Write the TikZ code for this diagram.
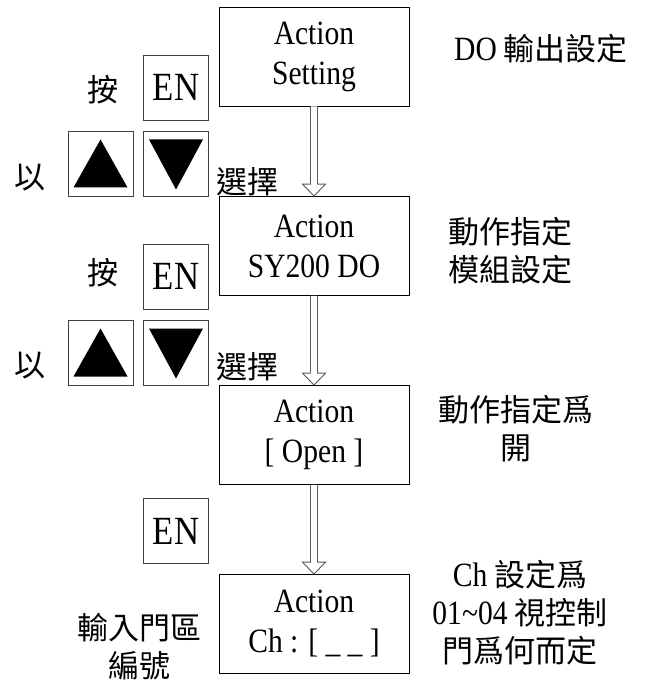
\documentclass[tikz,border=0pt]{standalone}
\usepackage{fontspec}
\setmainfont[FakeStretch=0.87]{Liberation Serif}
\newfontfamily\cjk{Noto Sans CJK TC}
\begin{document}
\begin{tikzpicture}[x=1pt,y=-1pt,
  box/.style={draw=black, line width=0.8pt, minimum width=190pt, minimum height=99pt, inner sep=0pt, align=center, font=\fontsize{34}{40}\selectfont},
  keybox/.style={draw=black!75, line width=0.8pt, minimum width=65pt, minimum height=65pt, inner sep=0pt, font=\fontsize{40}{44}\selectfont},
  note/.style={align=center, inner sep=0pt, font=\cjk\fontsize{31}{38}\selectfont},
  latin/.style={font=\rmfamily\fontsize{34}{38}\selectfont},
  arrowline/.style={draw=black!65, line width=0.9pt, fill=white, line join=miter}]
\useasboundingbox (0,0) rectangle (647,684);
\newcommand{\hollowarrow}[2]{%
  \draw[arrowline] ([xshift=-3.5pt]#1.south) -- ([xshift=-3.5pt,yshift=12pt]#2.north) -- ([xshift=-11.5pt,yshift=12pt]#2.north) -- (#2.north) -- ([xshift=11.5pt,yshift=12pt]#2.north) -- ([xshift=3.5pt,yshift=12pt]#2.north) -- ([xshift=3.5pt]#1.south);}
\newcommand{\uptri}[1]{\fill ([yshift=24pt]#1.center) -- ([xshift=-27pt,yshift=-24pt]#1.center) -- ([xshift=27pt,yshift=-24pt]#1.center) -- cycle;}
\newcommand{\downtri}[1]{\fill ([yshift=-26pt]#1.center) -- ([xshift=-27pt,yshift=24pt]#1.center) -- ([xshift=27pt,yshift=24pt]#1.center) -- cycle;}
\newcommand{\lat}[1]{{\rmfamily\fontsize{34}{38}\selectfont #1}}

% main boxes
\node[box] (b1) at (314,56.5) {Action\\Setting};
\node[box] (b2) at (314,246) {Action\\SY200 DO};
\node[box] (b3) at (314,435) {Action\\{[} Open ]};
\node[box] (b4) at (314,624) {Action\\Ch : [ \_ \_ ]};

\hollowarrow{b1}{b2}
\hollowarrow{b2}{b3}
\hollowarrow{b3}{b4}

% row 1 keys
\node[keybox] (en1) at (176,87.5) {EN};
\node[note] (an1) at (103,90) {按};
\node[keybox] (u1) at (100.5,163.5) {};
\node[keybox] (d1) at (176,163.5) {};
\uptri{u1}
\downtri{d1}
\node[note] (yi1) at (30,178) {以};
\node[note] (xz1) at (247,182) {選擇};

% row 2 keys
\node[keybox] (en2) at (176,276.5) {EN};
\node[note] (an2) at (103,273) {按};
\node[keybox] (u2) at (100.5,352.5) {};
\node[keybox] (d2) at (176,352.5) {};
\uptri{u2}
\downtri{d2}
\node[note] (yi2) at (30,366) {以};
\node[note] (xz2) at (247,367) {選擇};

% row 3 key
\node[keybox] (en3) at (176,531) {EN};

% right notes
\node[note] (n1) at (541,49) {\lat{DO} 輸出設定};
\node[note] (n2) at (510,251) {動作指定\\模組設定};
\node[note] (n3) at (516,429) {動作指定爲\\開};
\node[note] (n4) at (520,613) {\lat{Ch} 設定爲\\\lat{01\textasciitilde 04} 視控制\\門爲何而定};
\node[note] (n5) at (139.5,647) {輸入門區\\編號};
\end{tikzpicture}
\end{document}
